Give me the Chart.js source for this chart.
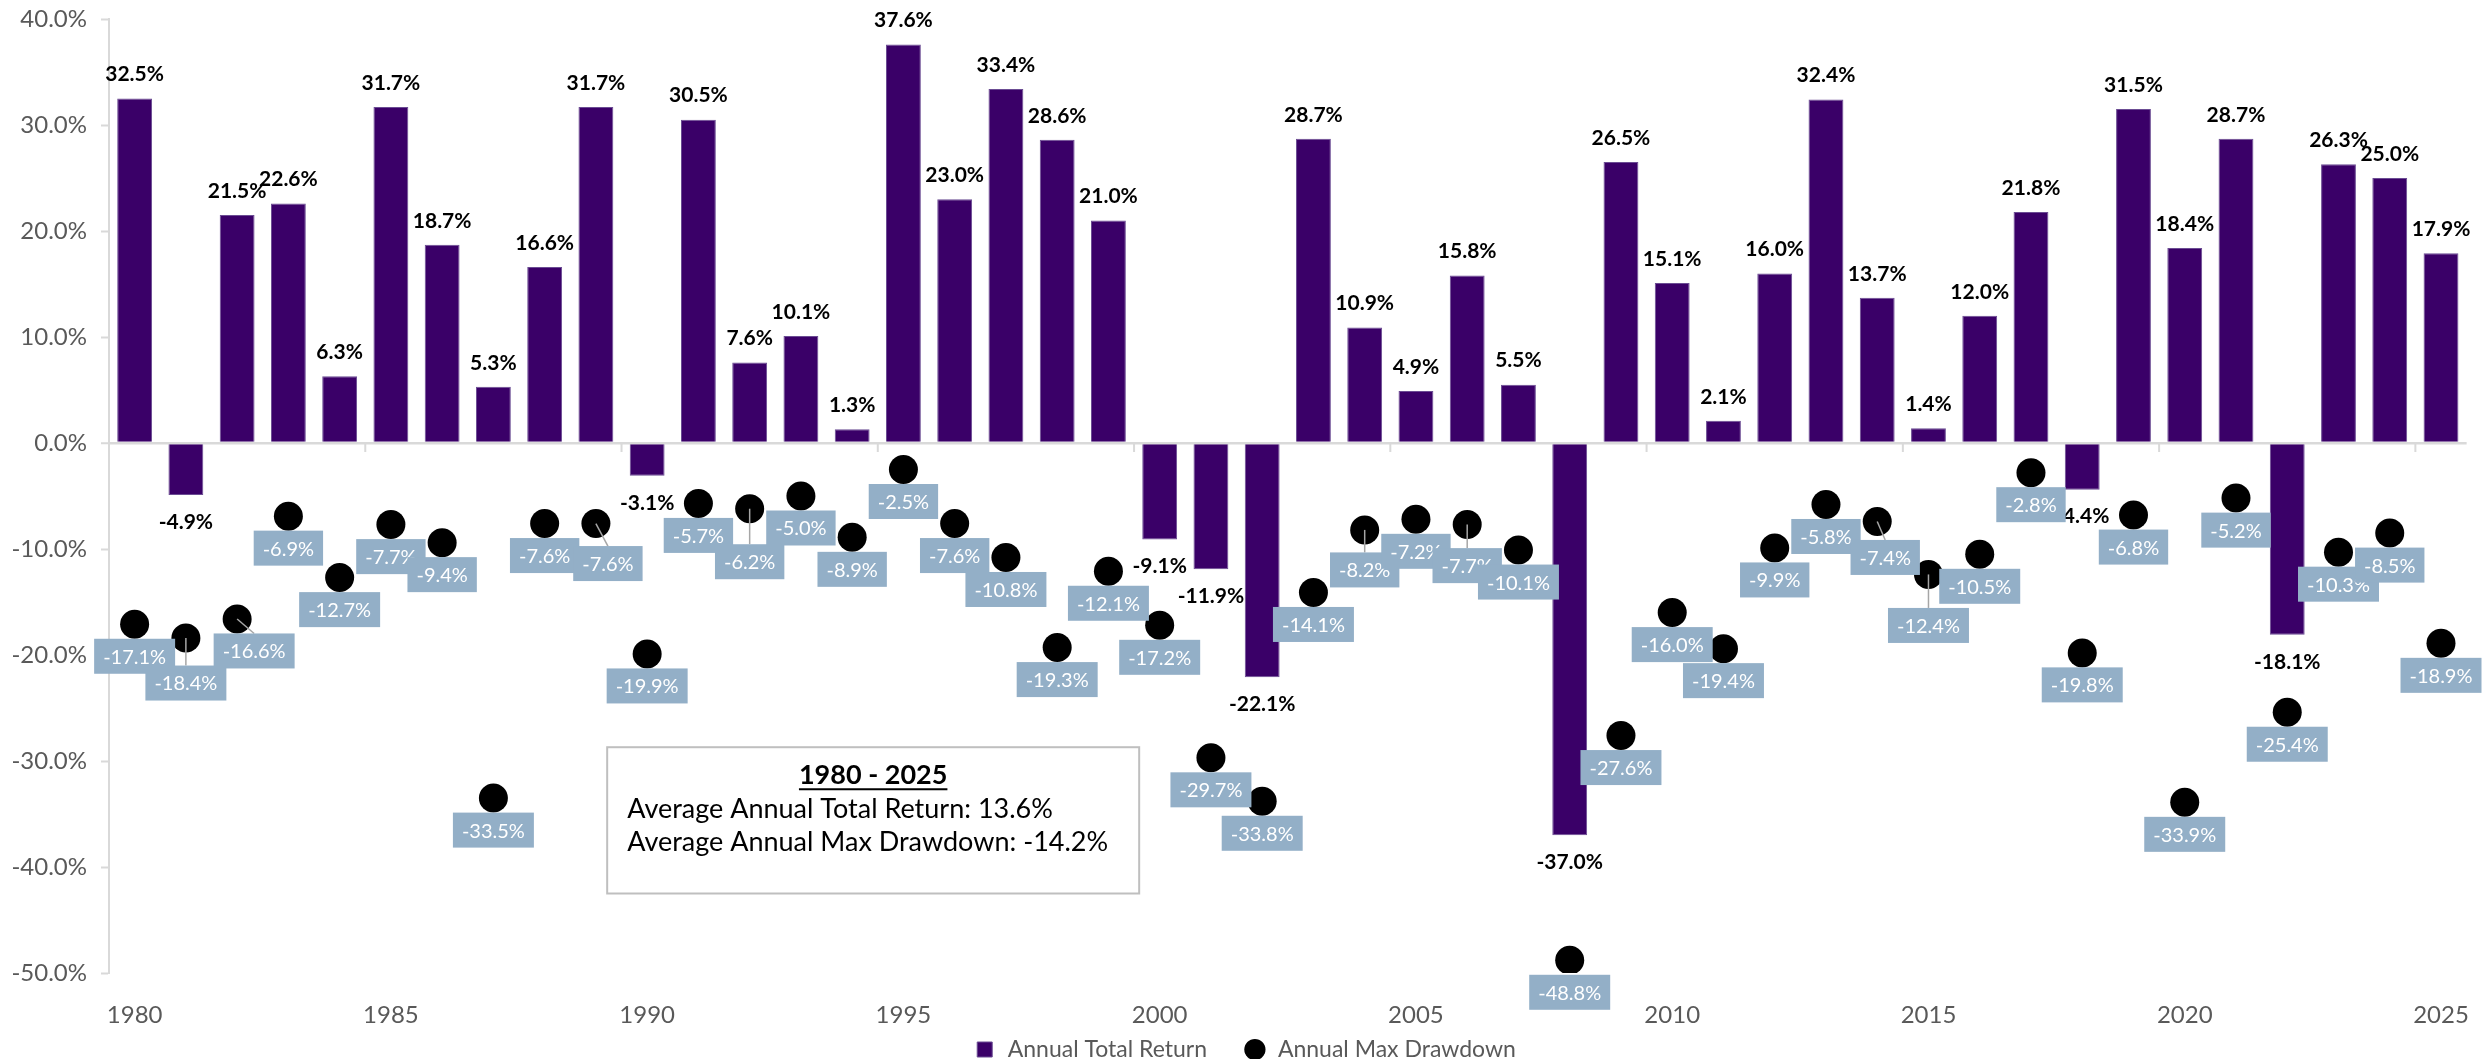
<!DOCTYPE html>
<html>
<head>
<meta charset="utf-8">
<script src="https://cdn.jsdelivr.net/npm/chart.js@4.4.1/dist/chart.umd.min.js"></script>
<style>
  html, body { margin: 0; padding: 0; background: #fff; }
  #wrap { width: 2489px; height: 1059px; }
</style>
</head>
<body>
<div id="wrap"><canvas id="chart"></canvas></div>
<script>
const years = [];
for (let y = 1980; y <= 2025; y++) years.push(String(y));

const annualReturn = [
  32.5, -4.9, 21.5, 22.6, 6.3, 31.7, 18.7, 5.3, 16.6, 31.7,
  -3.1, 30.5, 7.6, 10.1, 1.3, 37.6, 23.0, 33.4, 28.6, 21.0,
  -9.1, -11.9, -22.1, 28.7, 10.9, 4.9, 15.8, 5.5, -37.0, 26.5,
  15.1, 2.1, 16.0, 32.4, 13.7, 1.4, 12.0, 21.8, -4.4, 31.5,
  18.4, 28.7, -18.1, 26.3, 25.0, 17.9
];
const maxDrawdown = [
  -17.1, -18.4, -16.6, -6.9, -12.7, -7.7, -9.4, -33.5, -7.6, -7.6,
  -19.9, -5.7, -6.2, -5.0, -8.9, -2.5, -7.6, -10.8, -19.3, -12.1,
  -17.2, -29.7, -33.8, -14.1, -8.2, -7.2, -7.7, -10.1, -48.8, -27.6,
  -16.0, -19.4, -9.9, -5.8, -7.4, -12.4, -10.5, -2.8, -19.8, -6.8,
  -33.9, -5.2, -25.4, -10.3, -8.5, -18.9
];
const yTicks = [-50, -40, -30, -20, -10, 0, 10, 20, 30, 40];

const boxTitle = '1980 - 2025';
const boxLines = ['Average Annual Total Return: 13.6%', 'Average Annual Max Drawdown: -14.2%'];

// label nudges (px) where the drawdown label is pushed off its point
const labelNudge = { 1981: [0, 13], 1982: [17, 0], 1989: [12, 8], 1992: [0, 21], 2004: [0, 8], 2006: [0, 9], 2014: [8, 4], 2015: [0, 19] };

const FONT = 'Lato, "Open Sans", sans-serif';
const PURPLE = '#3A0068';
const BOXBLUE = '#93AFC7';
const AXIS = '#D9D9D9';
const TEXT = '#595959';
const DOT_R = 14.5;

const fmt = v => v.toFixed(1) + '%';

const labelPlugin = {
  id: 'labels',
  afterDatasetsDraw(chart) {
    const ctx = chart.ctx;
    const xs = chart.scales.x, ys = chart.scales.y;
    const y0 = ys.getPixelForValue(0);
    ctx.save();

    // tick marks on the zero line every 5 years
    ctx.strokeStyle = AXIS;
    ctx.lineWidth = 2;
    for (let i = 5; i < years.length; i += 5) {
      const bx = (xs.getPixelForValue(i - 1) + xs.getPixelForValue(i)) / 2;
      ctx.beginPath(); ctx.moveTo(bx, y0); ctx.lineTo(bx, y0 + 9); ctx.stroke();
    }

    // bar value labels
    const bars = chart.getDatasetMeta(0).data;
    ctx.font = 'bold 21px ' + FONT;
    ctx.fillStyle = '#000';
    ctx.textAlign = 'center';
    ctx.textBaseline = 'middle';
    bars.forEach((el, i) => {
      const v = annualReturn[i];
      ctx.fillText(fmt(v), el.x, v >= 0 ? el.y - 24 : el.y + 27);
    });

    // drawdown labels in boxes
    const pts = chart.getDatasetMeta(1).data;
    ctx.font = '20px ' + FONT;
    pts.forEach((el, i) => {
      const txt = fmt(maxDrawdown[i]);
      const nd = labelNudge[years[i]] || [0, 0];
      const w = ctx.measureText(txt).width + 18;
      const h = 35;
      const cx = el.x + nd[0];
      const top = el.y + DOT_R + nd[1];
      if (Math.abs(nd[0]) > 5 || Math.abs(nd[1]) > 5) {
        ctx.strokeStyle = '#A6A6A6';
        ctx.lineWidth = 1.5;
        ctx.beginPath(); ctx.moveTo(el.x, el.y); ctx.lineTo(cx, top); ctx.stroke();
      }
      ctx.fillStyle = BOXBLUE;
      ctx.fillRect(cx - w / 2, top, w, h);
      ctx.fillStyle = '#fff';
      ctx.fillText(txt, cx, top + h / 2 + 1);
    });

    // summary box
    const left = xs.getPixelForValue(9.22), right = xs.getPixelForValue(19.6);
    const top = ys.getPixelForValue(-28.7), bottom = ys.getPixelForValue(-42.5);
    ctx.fillStyle = '#fff';
    ctx.fillRect(left, top, right - left, bottom - top);
    ctx.strokeStyle = '#BFBFBF';
    ctx.lineWidth = 2;
    ctx.strokeRect(left, top, right - left, bottom - top);
    ctx.fillStyle = '#000';
    ctx.font = 'bold 27px ' + FONT;
    const mid = (left + right) / 2;
    ctx.fillText(boxTitle, mid, top + 28);
    const tw = ctx.measureText(boxTitle).width;
    ctx.lineWidth = 2;
    ctx.strokeStyle = '#000';
    ctx.beginPath(); ctx.moveTo(mid - tw / 2, top + 42); ctx.lineTo(mid + tw / 2, top + 42); ctx.stroke();
    ctx.font = '27px ' + FONT;
    ctx.textAlign = 'left';
    boxLines.forEach((s, k) => ctx.fillText(s, left + 20, top + 62 + k * 33));
    ctx.restore();
  }
};

new Chart(document.getElementById('chart'), {
  data: {
    labels: years,
    datasets: [
      {
        type: 'bar',
        label: 'Annual Total Return',
        data: annualReturn,
        backgroundColor: PURPLE,
        borderColor: '#6B4C93',
        borderWidth: 1,
        barPercentage: 0.68,
        categoryPercentage: 1,
        pointStyle: 'rect',
        order: 1
      },
      {
        type: 'line',
        label: 'Annual Max Drawdown',
        data: maxDrawdown,
        showLine: false,
        pointRadius: DOT_R,
        pointHoverRadius: DOT_R,
        backgroundColor: '#000',
        borderColor: '#000',
        borderWidth: 0,
        pointStyle: 'circle',
        order: 0
      }
    ]
  },
  options: {
    responsive: true,
    maintainAspectRatio: false,
    animation: false,
    devicePixelRatio: 1,
    layout: { padding: { top: 19, right: 0, left: 0, bottom: -12 } },
    plugins: {
      tooltip: { enabled: false },
      legend: {
        position: 'bottom',
        labels: {
          usePointStyle: true,
          boxHeight: 15,
          color: TEXT,
          font: { family: FONT, size: 23 },
          padding: 1,
          sort: (a, b) => a.datasetIndex - b.datasetIndex,
          generateLabels: chart => {
            const items = Chart.defaults.plugins.legend.labels.generateLabels(chart);
            items.forEach(it => { if (it.datasetIndex === 0) it.text += '      '; });
            return items;
          }
        }
      }
    },
    scales: {
      x: {
        type: 'category',
        offset: true,
        grid: { display: false },
        border: { display: false },
        ticks: {
          autoSkip: false,
          maxRotation: 0,
          padding: 20,
          color: TEXT,
          font: { family: FONT, size: 24 },
          callback: (v, i) => (i % 5 === 0 ? years[i] : '')
        },
        afterFit: s => { s.height = 64; }
      },
      y: {
        min: -50,
        max: 40,
        afterBuildTicks: s => { s.ticks = yTicks.map(v => ({ value: v })); },
        border: { color: AXIS, width: 2 },
        grid: {
          color: c => (c.tick && c.tick.value === 0 ? AXIS : 'rgba(0,0,0,0)'),
          lineWidth: c => (c.tick && c.tick.value === 0 ? 2.5 : 1),
          tickColor: AXIS,
          tickWidth: 2,
          tickLength: 8
        },
        ticks: {
          padding: 14,
          color: TEXT,
          font: { family: FONT, size: 24 },
          callback: v => fmt(v)
        },
        afterFit: s => { s.width = 109; s.paddingTop = 0; s.paddingBottom = 0; }
      }
    }
  },
  plugins: [labelPlugin]
});
</script>
</body>
</html>
